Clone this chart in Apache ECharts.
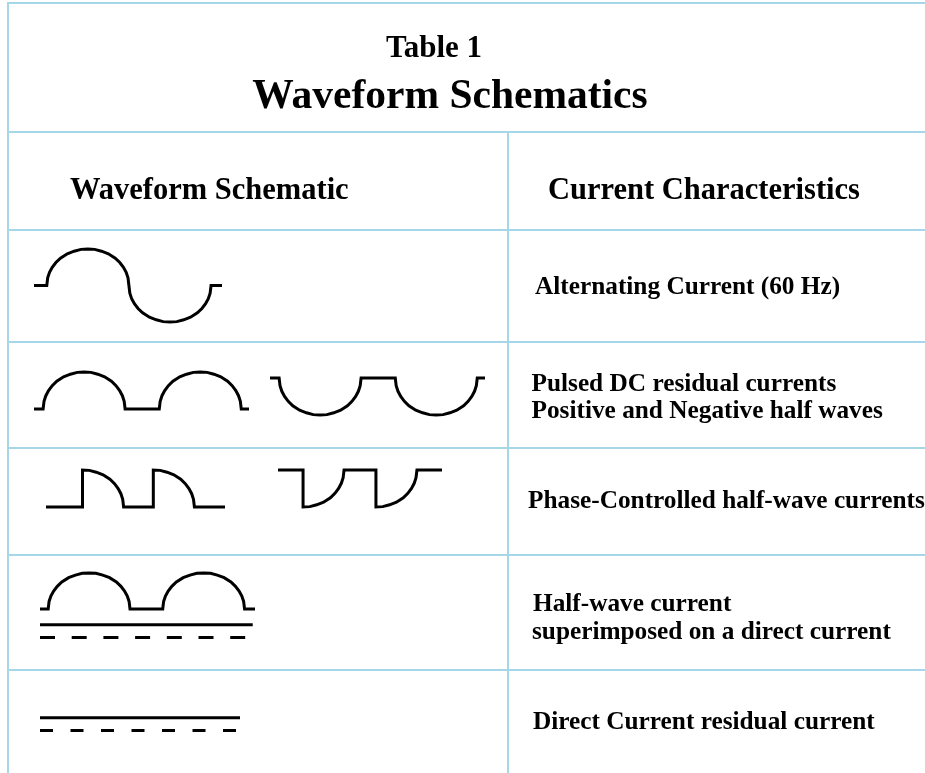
<!DOCTYPE html>
<html>
<head>
<meta charset="utf-8">
<script src="https://cdn.jsdelivr.net/npm/echarts/dist/echarts.min.js"></script>
<style>
  html, body { margin: 0; padding: 0; background: #ffffff; }
  #chart { width: 925px; height: 773px; }
</style>
</head>
<body>
<div id="chart"></div>
<script>
// ---------------- data ----------------
const titleLines = ['Table 1', 'Waveform Schematics'];
const headerLabels = ['Waveform Schematic', 'Current Characteristics'];
const rowDescriptions = [
  ['Alternating Current (60 Hz)'],
  ['Pulsed DC residual currents', 'Positive and Negative half waves'],
  ['Phase-Controlled half-wave currents'],
  ['Half-wave current', 'superimposed on a direct current'],
  ['Direct Current residual current']
];

const arcPhase = [0, 2, 6, 12, 20, 30, 45, 60, 75, 90, 105, 120, 135, 150, 160, 168, 174, 178, 180];
const arcLevel = [0, 0.21, 0.36, 0.50, 0.63, 0.75, 0.87, 0.94, 0.99, 1, 0.99, 0.94, 0.87, 0.75, 0.63, 0.50, 0.36, 0.21, 0];

// waveform segments in phase degrees: [kind, start, end/span, level/sign]
const acSegments = [['flat', 0, 28, 0], ['arc', 28, 180, 1], ['arc', 208, 180, -1], ['flat', 388, 412, 0]];
const pulsedPosSegments = [['flat', 0, 20, 0], ['arc', 20, 180, 1], ['flat', 200, 275, 0], ['arc', 275, 180, 1], ['flat', 455, 472, 0]];
const pulsedNegSegments = [['flat', 0, 20, 0], ['arc', 20, 180, -1], ['flat', 200, 275, 0], ['arc', 275, 180, -1], ['flat', 455, 472, 0]];
const phasePosSegments = [['flat', 0, 80, 0], ['tail', 80, 170, 1], ['flat', 170, 235, 0], ['tail', 235, 325, 1], ['flat', 325, 392, 0]];
const phaseNegSegments = [['flat', 0, 55, 0], ['tail', 55, 145, -1], ['flat', 145, 215, 0], ['tail', 215, 305, -1], ['flat', 305, 360, 0]];
const halfDcSegments = [['flat', 0, 18, 0], ['arc', 18, 180, 1], ['flat', 198, 270, 0], ['arc', 270, 180, 1], ['flat', 450, 473, 0]];

// direct-current symbol lines: [start phase, end phase, level]
const halfDcSolid = [0, 468, -0.44];
const halfDcDashed = [0, 465, -0.79];
const dcSolid = [0, 440, -0.44];
const dcDashed = [0, 440, -0.79];

// ---------------- build series data ----------------
function buildWave(segs) {
  const pts = [];
  segs.forEach(s => {
    if (s[0] === 'flat') {
      pts.push([s[1], s[3]], [s[2], s[3]]);
    } else if (s[0] === 'arc') {
      arcPhase.forEach((p, i) => pts.push([s[1] + p * s[2] / 180, s[3] * arcLevel[i]]));
    } else if (s[0] === 'tail') {
      pts.push([s[1], 0]);
      arcPhase.forEach((p, i) => {
        if (p >= 90) pts.push([s[1] + (p - 90) * (s[2] - s[1]) / 90, s[3] * arcLevel[i]]);
      });
    }
  });
  return pts;
}
function flatLine(l) { return [[l[0], l[2]], [l[1], l[2]]]; }

// ---------------- layout ----------------
const ink = '#000000';
const border = '#a5d7e9';
const serif = '"Liberation Serif", "Times New Roman", serif';

// one small grid per schematic: pixel box + axis ranges
const panels = [
  { left: 34,  top: 249, width: 188, height: 73, xMax: 412, yMin: -1, yMax: 1 },
  { left: 34,  top: 372, width: 215, height: 37, xMax: 472, yMin: 0,  yMax: 1 },
  { left: 270, top: 378, width: 215, height: 37, xMax: 472, yMin: -1, yMax: 0 },
  { left: 46,  top: 470, width: 179, height: 37, xMax: 392, yMin: 0,  yMax: 1 },
  { left: 278, top: 470, width: 164, height: 37, xMax: 360, yMin: -1, yMax: 0 },
  { left: 40,  top: 573, width: 215, height: 72, xMax: 473, yMin: -1, yMax: 1 },
  { left: 40,  top: 666, width: 200, height: 72, xMax: 440, yMin: -1, yMax: 1 }
];

const grids = panels.map(p => ({ left: p.left, top: p.top, width: p.width, height: p.height, containLabel: false, show: false }));
const xAxes = panels.map((p, i) => ({ type: 'value', gridIndex: i, min: 0, max: p.xMax, show: false }));
const yAxes = panels.map((p, i) => ({ type: 'value', gridIndex: i, min: p.yMin, max: p.yMax, show: false }));

function lineSeries(idx, data, dash) {
  return {
    type: 'line', xAxisIndex: idx, yAxisIndex: idx, data: data,
    showSymbol: false, symbol: 'none', clip: false, silent: true, animation: false,
    lineStyle: { color: ink, width: 3, type: dash || 'solid', cap: 'butt', join: 'miter' }
  };
}

const series = [
  lineSeries(0, buildWave(acSegments)),
  lineSeries(1, buildWave(pulsedPosSegments)),
  lineSeries(2, buildWave(pulsedNegSegments)),
  lineSeries(3, buildWave(phasePosSegments)),
  lineSeries(4, buildWave(phaseNegSegments)),
  lineSeries(5, buildWave(halfDcSegments)),
  lineSeries(5, flatLine(halfDcSolid)),
  lineSeries(5, flatLine(halfDcDashed), [15, 16.7]),
  lineSeries(6, flatLine(dcSolid)),
  lineSeries(6, flatLine(dcDashed), [13, 17.5])
];

// table rules
const hRules = [3, 132, 230, 342, 448, 555, 670];
const graphics = [];
hRules.forEach(y => graphics.push({ type: 'line', silent: true, z: 1, shape: { x1: 7, y1: y, x2: 925, y2: y }, style: { stroke: border, lineWidth: 2 } }));
graphics.push({ type: 'line', silent: true, z: 1, shape: { x1: 8, y1: 2, x2: 8, y2: 773 }, style: { stroke: border, lineWidth: 2 } });
graphics.push({ type: 'line', silent: true, z: 1, shape: { x1: 508, y1: 132, x2: 508, y2: 773 }, style: { stroke: border, lineWidth: 2 } });

function txt(text, x, y, size, align) {
  return {
    type: 'text', x: x, y: y, silent: true, z: 2,
    style: {
      text: text, fill: ink, font: 'bold ' + size + 'px ' + serif,
      align: align || 'left', verticalAlign: 'middle',
      textAlign: align || 'left', textVerticalAlign: 'middle'
    }
  };
}

graphics.push(txt(titleLines[0], 434, 48.5, 31, 'center'));
graphics.push(txt(titleLines[1], 450, 97, 41.5, 'center'));
graphics.push(txt(headerLabels[0], 70, 191, 30.5));
graphics.push(txt(headerLabels[1], 548, 191, 30.5));

const descPos = [
  [[535, 287.5]],
  [[531.5, 384], [531.5, 411]],
  [[528, 501]],
  [[533, 604.5], [532, 632.5]],
  [[533, 722.5]]
];
rowDescriptions.forEach((lines, r) => {
  lines.forEach((t, j) => graphics.push(txt(t, descPos[r][j][0], descPos[r][j][1], 25.3)));
});

const chart = echarts.init(document.getElementById('chart'), null, { renderer: 'canvas' });
chart.setOption({
  animation: false,
  backgroundColor: '#ffffff',
  grid: grids,
  xAxis: xAxes,
  yAxis: yAxes,
  series: series,
  graphic: graphics
});
</script>
</body>
</html>
